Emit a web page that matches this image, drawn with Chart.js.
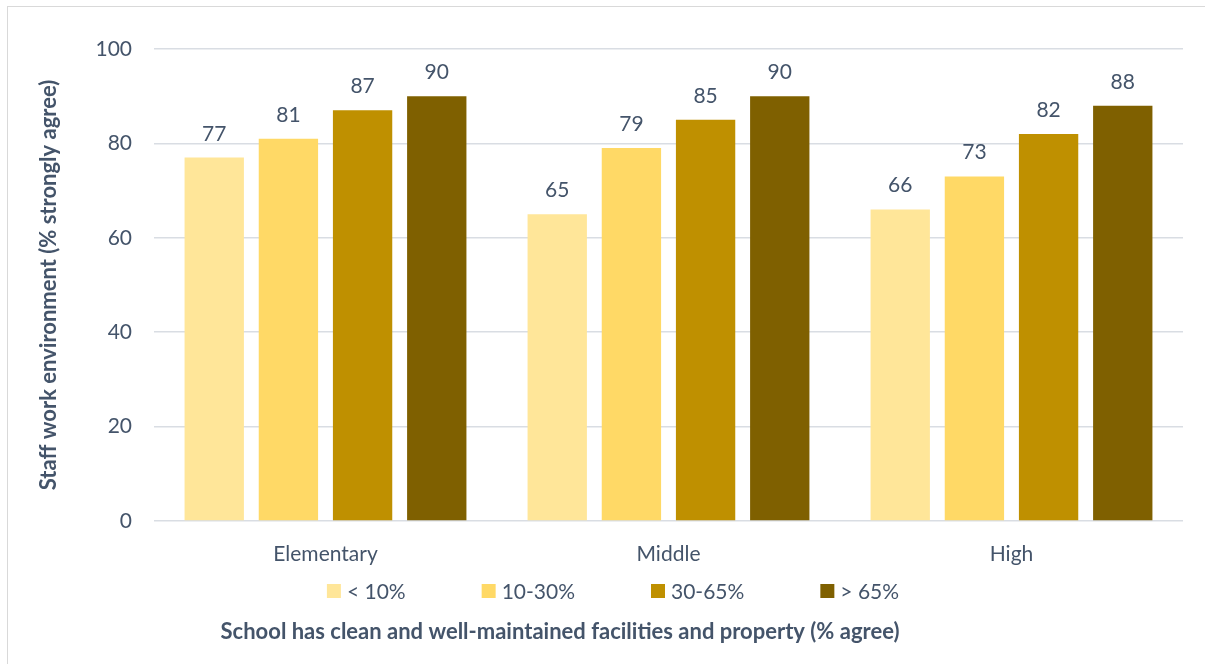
<!DOCTYPE html>
<html>
<head>
<meta charset="utf-8">
<script src="https://cdn.jsdelivr.net/npm/chart.js@4.4.1/dist/chart.umd.min.js"></script>
<style>
  html, body { margin: 0; padding: 0; background: #fff; overflow: hidden; }
  #frame { position: absolute; left: 7px; top: 6px; width: 1400px; height: 900px; border: 1px solid #d9d9d9; }
  #wrap { position: absolute; left: 0; top: 0; width: 1205px; height: 664px; }
</style>
</head>
<body>
<div id="frame"></div>
<div id="wrap"><canvas id="chart" width="1205" height="664"></canvas></div>
<script>
const categories = ["Elementary", "Middle", "High"];
const seriesNames = ["< 10%", "10-30%", "30-65%", "> 65%"];
const under10 = [77, 65, 66];
const from10to30 = [81, 79, 73];
const from30to65 = [87, 85, 82];
const over65 = [90, 90, 88];
const yTicks = [0, 20, 40, 60, 80, 100];

const colors = ["#ffe699", "#ffd966", "#bf9000", "#7f6000"];
const textColor = "#44546a";
const fontFamily = "Lato, 'Open Sans', sans-serif";
const fontSize = 21;
const titleSize = 22;

const seriesValues = [under10, from10to30, from30to65, over65];

// value labels above each bar
const barLabels = {
  id: "barLabels",
  afterDatasetsDraw(chart) {
    const ctx = chart.ctx;
    ctx.save();
    ctx.font = fontSize + "px " + fontFamily;
    ctx.fillStyle = textColor;
    ctx.textAlign = "center";
    ctx.textBaseline = "alphabetic";
    chart.data.datasets.forEach((ds, i) => {
      chart.getDatasetMeta(i).data.forEach((bar, j) => {
        ctx.fillText(ds.data[j], bar.x, bar.y - 17);
      });
    });
    ctx.restore();
  }
};

// legend row and x axis title below the categories
const bottomText = {
  id: "bottomText",
  afterDraw(chart) {
    const ctx = chart.ctx;
    ctx.save();
    ctx.font = fontSize + "px " + fontFamily;
    ctx.textBaseline = "middle";
    const box = 14, gapText = 6, gapItem = 76;
    const widths = chart.data.datasets.map(ds => ctx.measureText(ds.label).width);
    let total = 0;
    widths.forEach((w, i) => { total += box + gapText + w + (i < widths.length - 1 ? gapItem : 0); });
    let x = 613 - total / 2;
    const y = 591;
    chart.data.datasets.forEach((ds, i) => {
      ctx.fillStyle = ds.backgroundColor;
      ctx.fillRect(x, y - box / 2, box, box);
      ctx.fillStyle = textColor;
      ctx.textAlign = "left";
      ctx.fillText(ds.label, x + box + gapText, y + 1);
      x += box + gapText + widths[i] + gapItem;
    });
    ctx.font = "bold " + titleSize + "px " + fontFamily;
    ctx.textAlign = "center";
    ctx.fillStyle = textColor;
    ctx.fillText("School has clean and well-maintained facilities and property (% agree)", 560, 632);
    ctx.restore();
  }
};

new Chart(document.getElementById("chart"), {
  type: "bar",
  data: {
    labels: categories,
    datasets: seriesNames.map((name, i) => ({
      label: name,
      data: seriesValues[i],
      backgroundColor: colors[i],
      borderWidth: 0,
      categoryPercentage: 0.865,
      barPercentage: 0.8
    }))
  },
  options: {
    responsive: false,
    animation: false,
    layout: { padding: { left: 0, right: 22, top: 49, bottom: 83 } },
    plugins: {
      legend: { display: false },
      tooltip: { enabled: false }
    },
    scales: {
      x: {
        grid: { display: false },
        border: { display: false },
        ticks: { color: textColor, font: { family: fontFamily, size: fontSize }, padding: 13 },
        afterFit(scale) { scale.height = 60; }
      },
      y: {
        min: 0,
        max: 100,
        afterBuildTicks(scale) { scale.ticks = yTicks.map(v => ({ value: v })); },
        grid: { color: "#d9dde3", lineWidth: 1.5, drawTicks: false },
        border: { display: false },
        ticks: { color: textColor, font: { family: fontFamily, size: fontSize }, padding: 22 },
        title: {
          display: true,
          text: "Staff work environment (% strongly agree)",
          color: textColor,
          font: { family: fontFamily, size: titleSize, weight: "bold" },
          padding: { top: 36, bottom: 0 }
        },
        afterFit(scale) { scale.width = 154; }
      }
    }
  },
  plugins: [barLabels, bottomText]
});
</script>
</body>
</html>
